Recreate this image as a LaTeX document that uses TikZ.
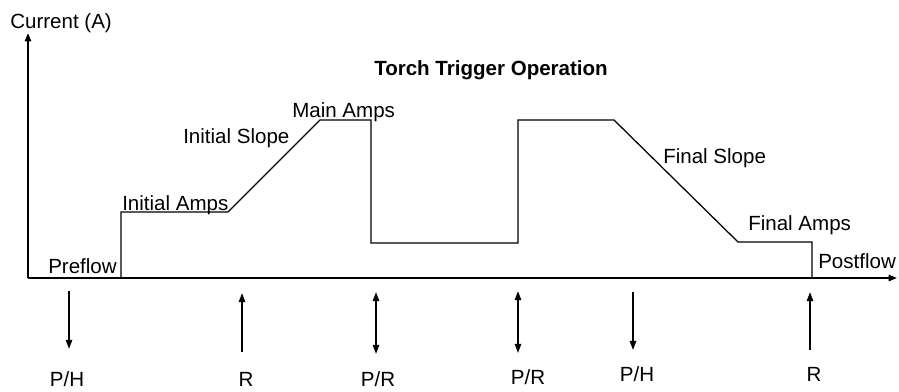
\documentclass[tikz,border=0pt]{standalone}
\usepackage{fontspec}
\setmainfont{Liberation Sans}
\usetikzlibrary{arrows.meta,positioning}
\tikzset{
  lbl/.style={inner sep=0pt, font=\fontsize{14.6}{17}\selectfont},
  axisline/.style={line width=1.3pt, -{Triangle[length=6pt,width=4.5pt]}},
  wave/.style={line width=0.9pt, line join=miter},
  trigdown/.style={line width=1.2pt, -{Triangle[length=6.5pt,width=4.5pt]}},
  trigboth/.style={line width=1.2pt, {Triangle[length=6.5pt,width=4.5pt]}-{Triangle[length=6.5pt,width=4.5pt]}},
}
\begin{document}
\begin{tikzpicture}[x=0.025cm, y=-0.025cm]
  \useasboundingbox (0,0) rectangle (899,391);

  % axes
  \coordinate (orig) at (28,278);
  \coordinate (ytip) at (28,33);
  \coordinate (xtip) at (897,278);
  \draw[axisline] (orig) -- (ytip);
  \draw[axisline] (orig) -- (xtip);
  \node[lbl, anchor=base west] (ylabel) at (10,28) {Current (A)};
  \node[lbl, anchor=base, font=\fontsize{14.6}{17}\selectfont\bfseries] (title) at (491,75) {Torch Trigger Operation};

  % current profile
  \draw[wave] (orig) -- (121,278) -- (121,212) -- (228,212) -- (320,120) -- (371,120)
    -- (371,243) -- (518,243) -- (518,120) -- (614,120) -- (738,242) -- (812,242) -- (812,278);

  \node[lbl, anchor=base west] (preflow) at (48,273) {Preflow};
  \node[lbl, anchor=base west] (initamps) at (122,210) {Initial Amps};
  \node[lbl, anchor=base west] (initslope) at (183,143) {Initial Slope};
  \node[lbl, anchor=base west] (mainamps) at (292,117) {Main Amps};
  \node[lbl, anchor=base west] (finslope) at (663,163) {Final Slope};
  \node[lbl, anchor=base west] (finamps) at (748,230) {Final Amps};
  \node[lbl, anchor=base west] (postflow) at (818,268) {Postflow};

  % trigger actions
  \coordinate (ph1a) at (69,291);   \coordinate (ph1b) at (69,349);
  \coordinate (r1a) at (242,352);   \coordinate (r1b) at (242,293);
  \coordinate (pr1a) at (376,292);  \coordinate (pr1b) at (376,354);
  \coordinate (pr2a) at (518,291);  \coordinate (pr2b) at (518,353);
  \coordinate (ph2a) at (633,292);  \coordinate (ph2b) at (633,350);
  \coordinate (r2a) at (810,350);   \coordinate (r2b) at (810,292);

  \draw[trigdown] (ph1a) -- (ph1b);
  \draw[trigdown] (r1a) -- (r1b);
  \draw[trigboth] (pr1a) -- (pr1b);
  \draw[trigboth] (pr2a) -- (pr2b);
  \draw[trigdown] (ph2a) -- (ph2b);
  \draw[trigdown] (r2a) -- (r2b);

  \node[lbl, anchor=base] (ph1) at (67,386) {P/H};
  \node[lbl, anchor=base] (r1) at (246,386) {R};
  \node[lbl, anchor=base] (pr1) at (378,386) {P/R};
  \node[lbl, anchor=base] (pr2) at (528,384) {P/R};
  \node[lbl, anchor=base] (ph2) at (637,381) {P/H};
  \node[lbl, anchor=base] (r2) at (814,381) {R};
\end{tikzpicture}
\end{document}
